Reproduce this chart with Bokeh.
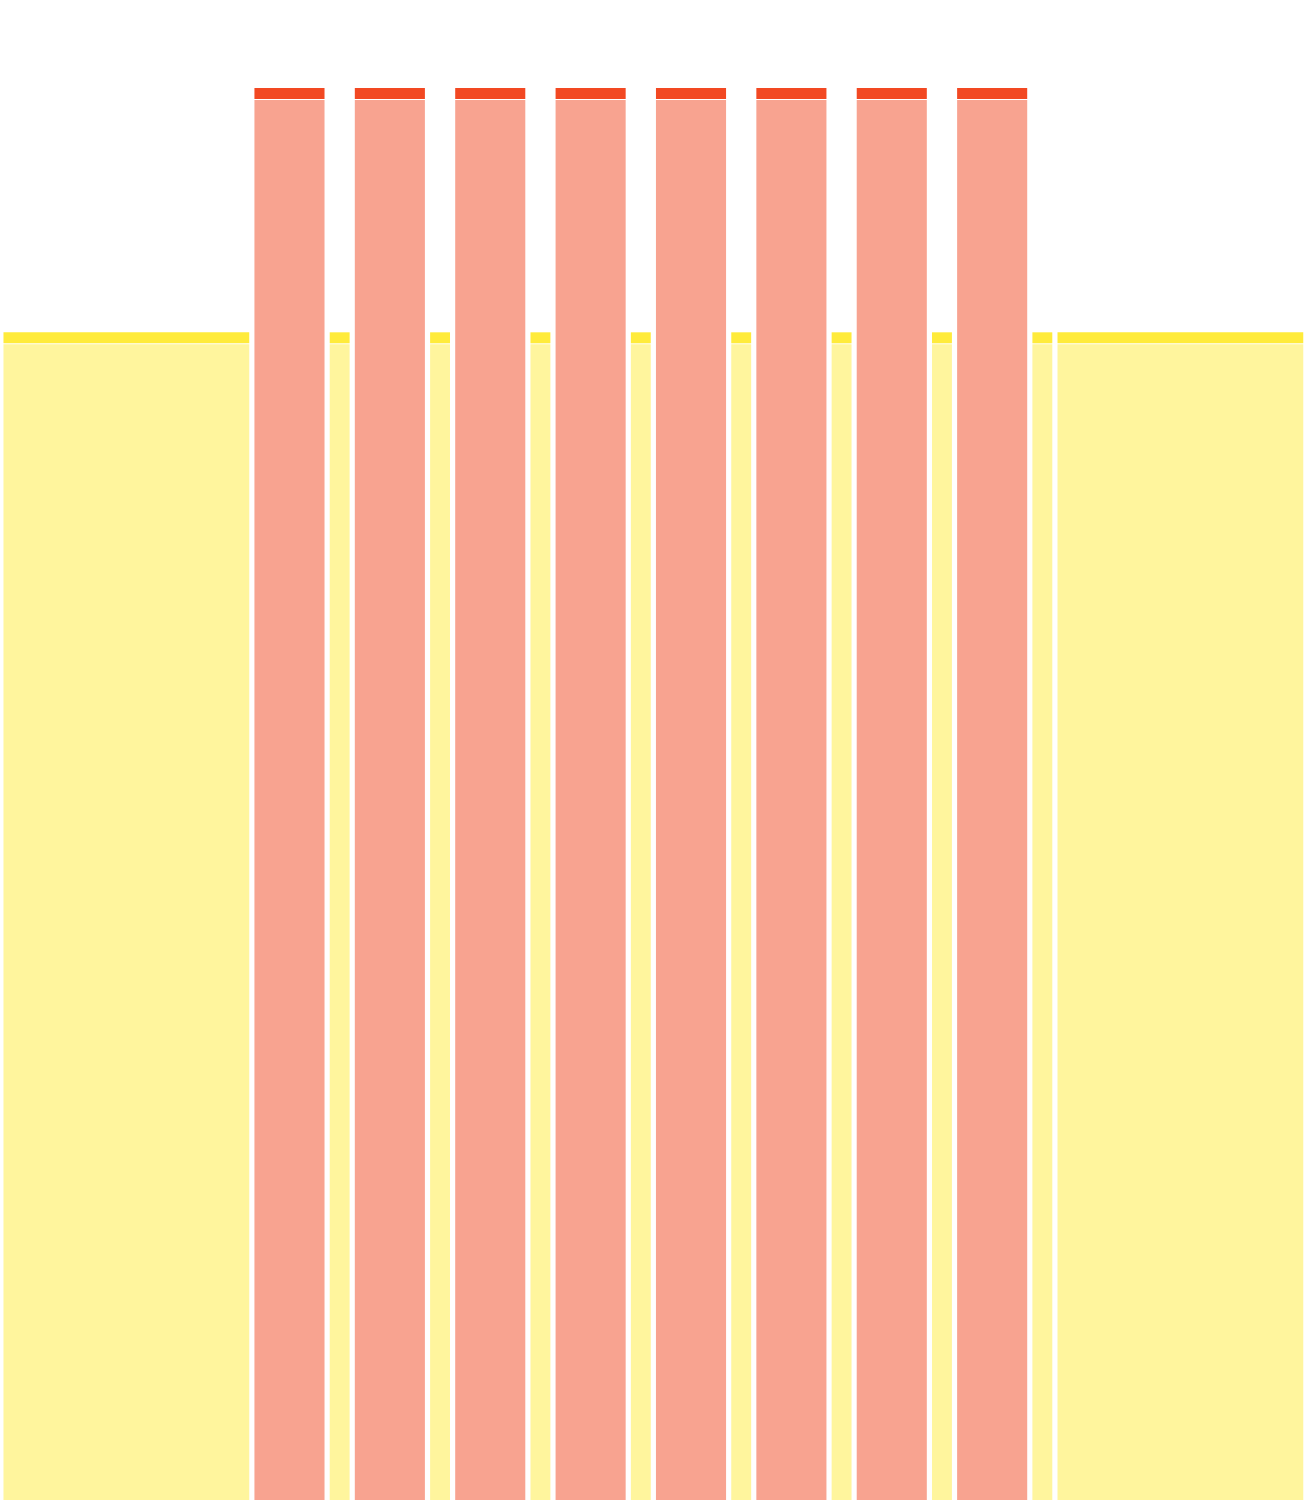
import numpy as np
from bokeh.plotting import figure
from bokeh.models import Range1d, ColumnDataSource
from bokeh.embed import file_html
from bokeh.resources import INLINE

# Interval workout: warm-up, 8 x (3 hard / 1 easy), cool-down
durations = [10, 3, 1, 3, 1, 3, 1, 3, 1, 3, 1, 3, 1, 3, 1, 3, 1, 10]
kinds = ["easy", "hard", "easy", "hard", "easy", "hard", "easy", "hard", "easy",
         "hard", "easy", "hard", "easy", "hard", "easy", "hard", "easy", "easy"]
easy_level = 82.7
hard_level = 100.0

kind_colors = {"easy": "#FFEB3B", "hard": "#F24822"}

W, H = 1304, 1500
y_start, y_end = 0.0, 106.19
x_start, x_end = -0.015, 51.946

levels = np.array([hard_level if k == "hard" else easy_level for k in kinds])
colors = [kind_colors[k] for k in kinds]
edges = np.concatenate([[0.0], np.cumsum(durations)])

px_per_x = W / (x_end - x_start)
px_per_y = H / (y_end - y_start)
inset = 2.6 / px_per_x
cap = 11.0 / px_per_y
sep = 1.0 / px_per_y

src = ColumnDataSource(dict(
    left=edges[:-1] + inset,
    right=edges[1:] - inset,
    top=levels,
    cap_bottom=levels - cap,
    body_top=levels - cap - sep,
    bottom=np.zeros(len(levels)),
    color=colors,
))

p = figure(width=W, height=H, x_range=Range1d(x_start, x_end), y_range=Range1d(y_start, y_end),
           output_backend="svg", toolbar_location=None, min_border=0,
           min_border_left=0, min_border_right=0, min_border_top=0, min_border_bottom=0,
           x_axis_location=None, y_axis_location=None)
p.grid.visible = False
p.outline_line_color = None
p.background_fill_color = "white"
p.border_fill_color = "white"

p.quad(left="left", right="right", top="body_top", bottom="bottom", source=src,
       fill_color="color", fill_alpha=0.5, line_color=None)
p.quad(left="left", right="right", top="top", bottom="cap_bottom", source=src,
       fill_color="color", fill_alpha=1.0, line_color=None)

open("out.html", "w").write(file_html(p, INLINE))
